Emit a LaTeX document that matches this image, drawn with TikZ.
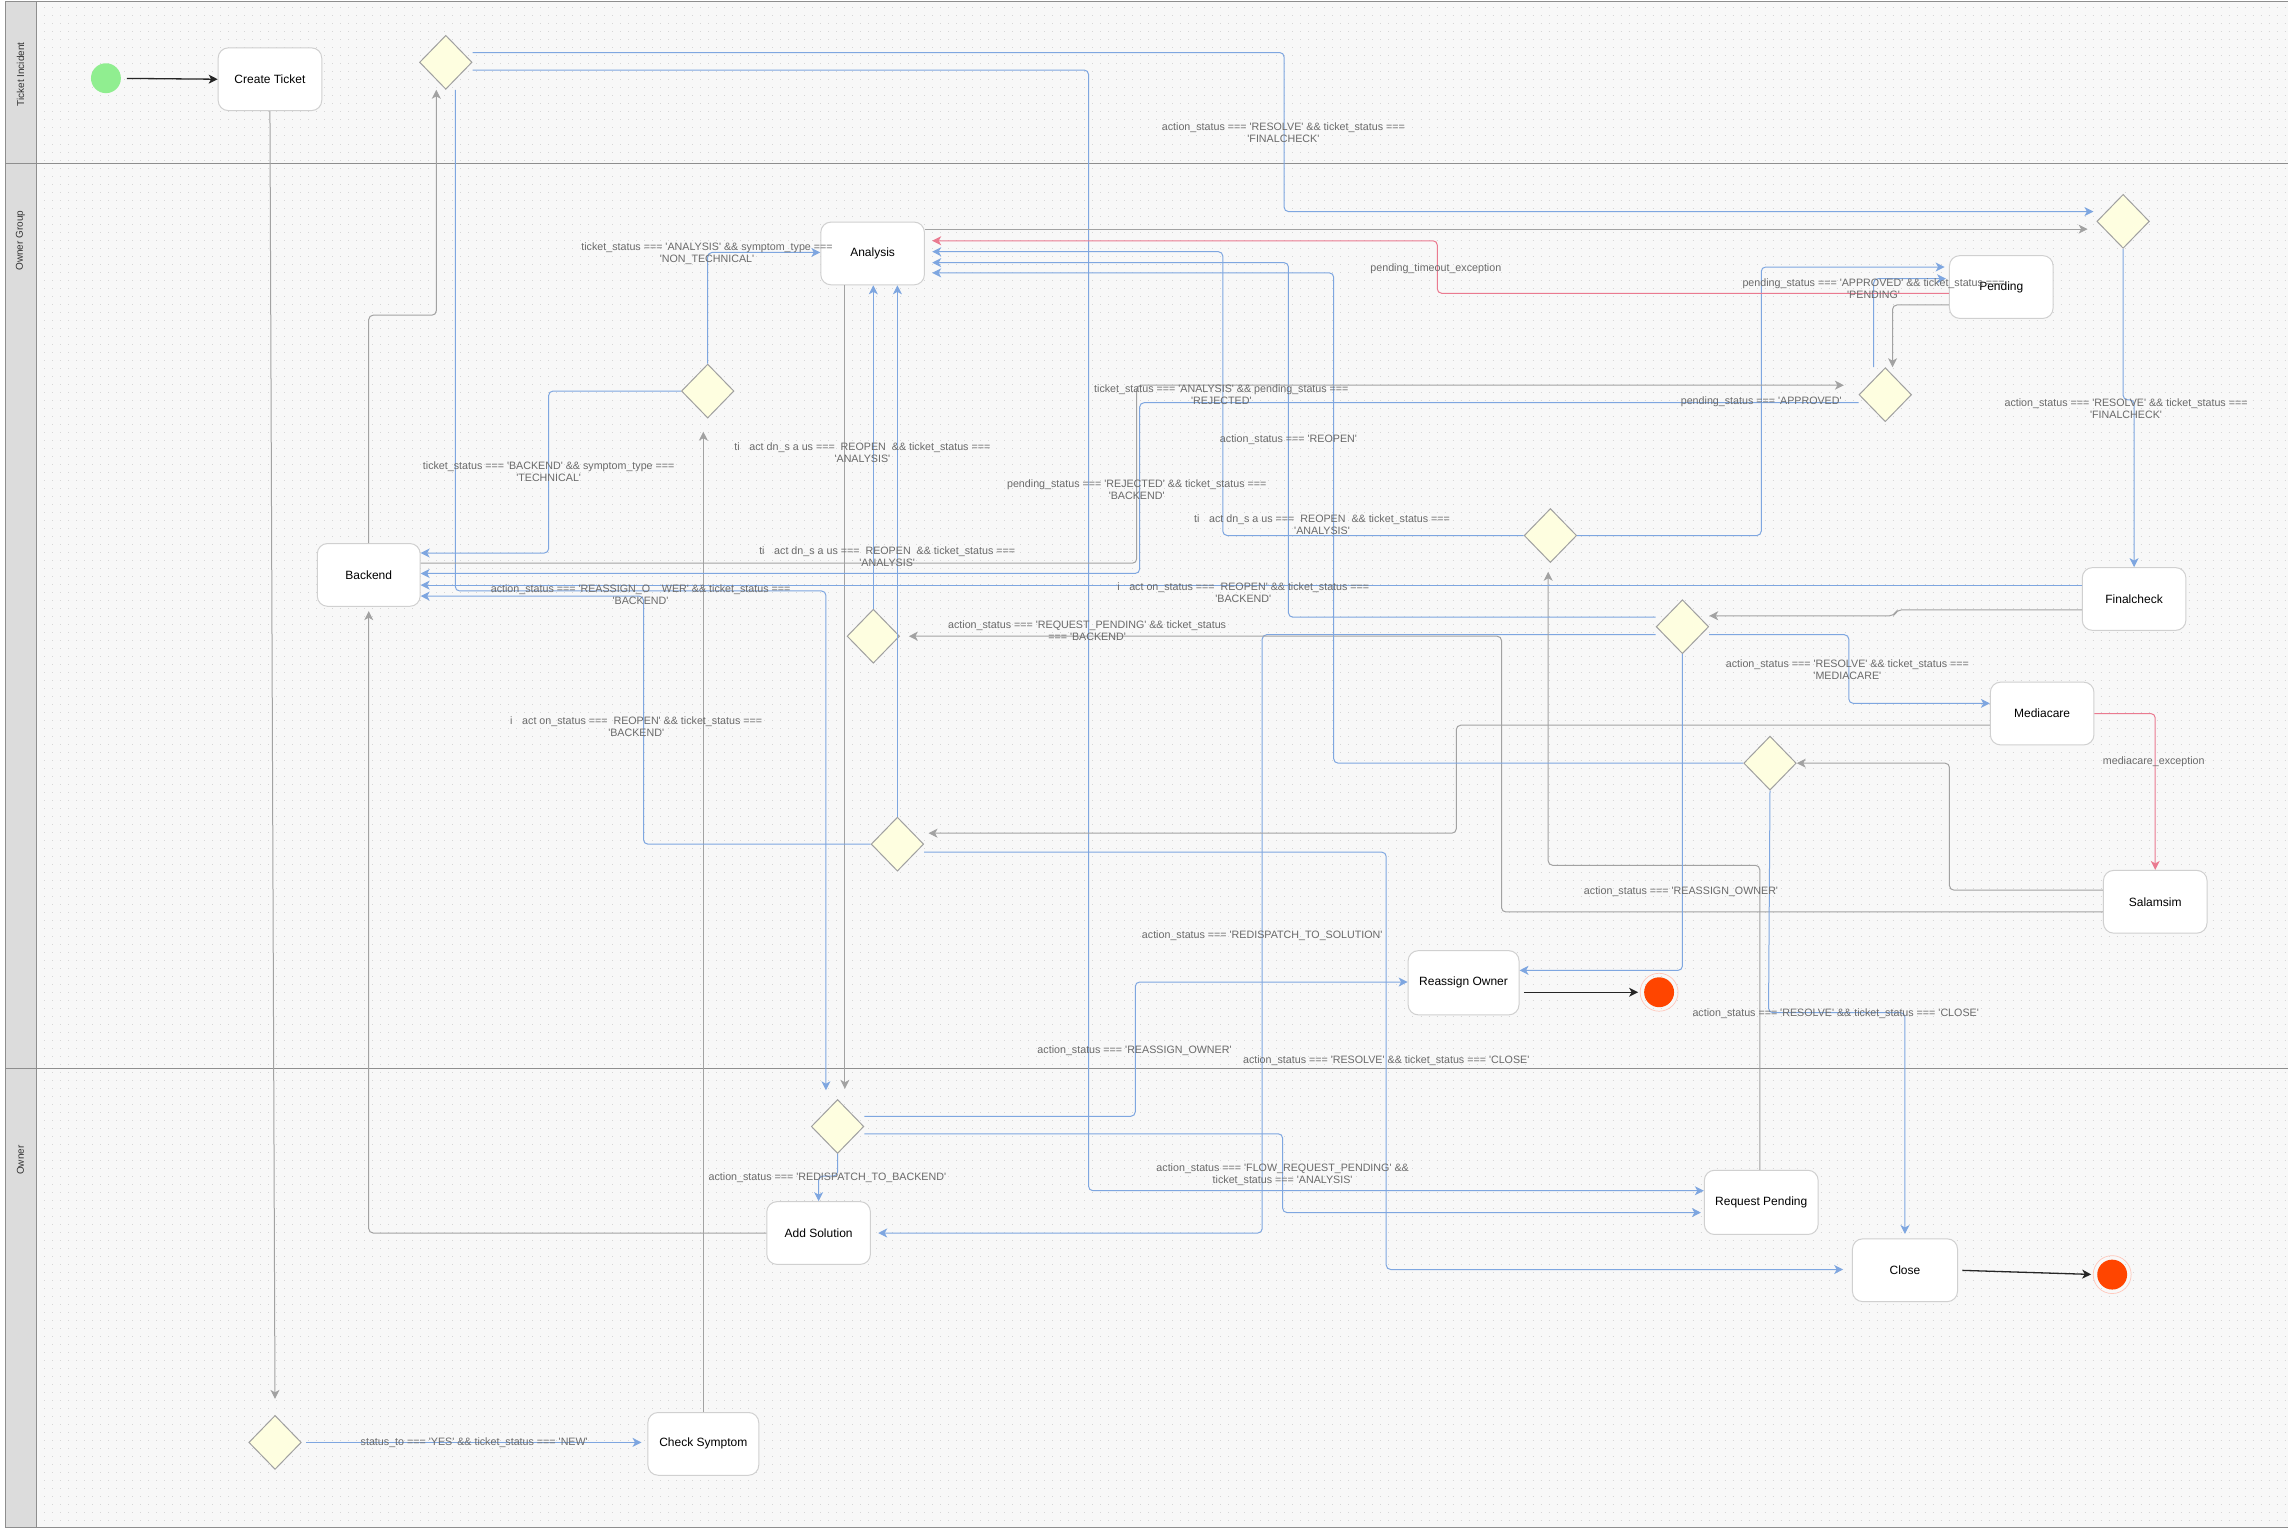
\documentclass[tikz,border=0pt]{standalone}
\usepackage{fontspec}
\setmainfont{Liberation Sans}[Ligatures=TeXOff]
\usetikzlibrary{arrows.meta,shapes.geometric,calc}

% one drawing unit
\newlength\upx \setlength\upx{1.45918pt}
\newlength\nupx \setlength\nupx{-1.45918pt}

\definecolor{laneline}{HTML}{8E8E8E}
\definecolor{lanehead}{HTML}{DCDCDC}
\definecolor{canvas}{HTML}{F8F8F8}
\definecolor{dotc}{HTML}{D6D6D6}
\definecolor{flowblue}{HTML}{7EA6E0}
\definecolor{flowgray}{HTML}{A2A2A2}
\definecolor{flowred}{HTML}{EA7A90}
\definecolor{boxline}{HTML}{D0D0D0}
\definecolor{diafill}{HTML}{FEFEE0}
\definecolor{diadraw}{HTML}{A0A0A0}
\definecolor{lbltext}{HTML}{6A6A6A}
\definecolor{startc}{HTML}{90EE90}
\definecolor{endc}{HTML}{FF4500}
\definecolor{endring}{HTML}{FFC8BC}

\tikzset{
  stbox/.style={rectangle, rounded corners=7\upx, draw=boxline, line width=1pt,
    fill=white, minimum width=71\upx, minimum height=43\upx, inner sep=0pt,
    font=\fontsize{12}{14}\selectfont, text=black},
  widebox/.style={stbox, minimum width=77\upx, minimum height=44\upx},
  gate/.style={diamond, draw=diadraw, line width=1pt, fill=diafill,
    minimum width=36\upx, minimum height=37\upx, inner sep=0pt},
  startdot/.style={circle, fill=startc, minimum size=20.5\upx, inner sep=0pt},
  enddot/.style={circle, fill=endc, minimum size=20.5\upx, inner sep=0pt},
  lbl/.style={font=\fontsize{10.7}{12}\selectfont, text=lbltext, align=center, inner sep=0pt},
  lanetitle/.style={rotate=90, font=\fontsize{10}{12}\selectfont, text=black!80},
  conn/.style={line width=1pt, rounded corners=3\upx,
    -{Stealth[length=9pt,width=9pt,inset=2.5pt]}},
  bflow/.style={conn, draw=flowblue},
  gflow/.style={conn, draw=flowgray},
  rflow/.style={conn, draw=flowred},
  kflow/.style={line width=1.3pt, draw=black!85,
    -{Stealth[length=9pt,width=9pt,inset=2.5pt]}},
  dotgrid/.style={draw=dotc, line width=1pt, dash pattern=on 1pt off 7pt},
}

\begin{document}
\begin{tikzpicture}[x=\upx, y=\nupx]
\useasboundingbox (0,0) rectangle (1568,1049);
\fill[white] (0,0) rectangle (1568,1049);

% swimlane canvas and dot grid
\fill[canvas] (25,1) rectangle (1568,1047);
\foreach \k in {1,...,190} {\draw[dotgrid] (25,\k*5.4826) -- (1568,\k*5.4826);}
\fill[lanehead] (4,1) rectangle (25,1047);
\draw[laneline, line width=1.2pt] (1568,1) -- (4,1) -- (4,1047) -- (1568,1047);
\draw[laneline, line width=1.2pt] (25,1) -- (25,1047);
\draw[laneline, line width=1.2pt] (4,112) -- (1568,112);
\draw[laneline, line width=1.2pt] (4,732) -- (1568,732);
\node[lanetitle] (laneA) at (14,51) {Ticket Incident};
\node[lanetitle] (laneB) at (14,165) {Owner Group};
\node[lanetitle] (laneC) at (14,795) {Owner};

% states and decisions
\node[startdot] (start) at (72.6,53.6) {};
\node[stbox] (CreateTicket) at (185,54.3) {Create Ticket};
\node[gate] (D1) at (305.5,42.7) {};
\node[stbox] (Analysis) at (598,173.7) {Analysis};
\node[gate] (D_FC) at (1455,151.7) {};
\node[stbox] (Pending) at (1371.5,196.7) {Pending};
\node[gate] (D_Pending) at (1292,270.5) {};
\node[gate] (D_Tech) at (485,268) {};
\node[stbox, minimum width=70.5\upx] (Backend) at (252.7,394) {Backend};
\node[gate] (D_mid) at (1062.5,367) {};
\node[stbox] (Finalcheck) at (1462.5,410.5) {Finalcheck};
\node[gate] (D_FCout) at (1153,429.5) {};
\node[gate] (D_ReqPend) at (598.5,436) {};
\node[stbox] (Mediacare) at (1399.5,489) {Mediacare};
\node[gate] (D_Sal) at (1213,523) {};
\node[gate] (D_Med) at (615,578.5) {};
\node[stbox] (Salamsim) at (1477,618) {Salamsim};
\node[widebox, minimum width=76\upx] (ReassignOwner) at (1003,673.5) {Reassign Owner};
\node[enddot] (End1) at (1137,680) {};
\draw[endring, line width=0.7pt] (End1.center) circle[radius=13\upx];
\node[gate] (D_Owner) at (574,772) {};
\node[stbox] (AddSolution) at (561,845) {Add Solution};
\node[widebox, minimum width=78\upx] (RequestPending) at (1207,824) {Request Pending};
\node[stbox, minimum width=72\upx] (Close) at (1305.5,870.5) {Close};
\node[enddot] (End2) at (1447.5,873.5) {};
\draw[endring, line width=0.7pt] (End2.center) circle[radius=13\upx];
\node[gate] (D_Start) at (188.5,988.5) {};
\node[widebox, minimum width=76\upx, minimum height=43\upx] (CheckSymptom) at (482,989.5) {Check Symptom};

% transitions
\draw[kflow, shorten <=4\upx] (start) -- (CreateTicket.west);
\draw[gflow, shorten >=11\upx] (CreateTicket.south) -- (D_Start.north);
\draw[bflow, shorten <=3\upx, shorten >=4\upx] (D_Start.east) -- (CheckSymptom.west |- D_Start.east);
\draw[gflow, shorten >=9\upx] (CheckSymptom.north) -- (CheckSymptom.north |- D_Tech.south);
\draw[bflow] (D_Tech.north) |- (Analysis.west |- 0,173);
\draw[bflow] (D_Tech.west) -- (376,268) |- (Backend.east |- 0,379);
\draw[gflow] (Backend.north) |- (299,216) -- (D1.south -| 299,0);
\draw[bflow, shorten >=2\upx] (D1.east |- 0,36) -- (880,36) |- (D_FC.west |- 0,145);
\draw[bflow] (D1.east |- 0,48) -- (746,48) |- (RequestPending.west |- 0,816);
\draw[bflow, shorten >=6\upx] (D1.south -| 312,0) -- (312,405) -- (566,405) -- (D_Owner.north -| 566,0);
\draw[gflow, shorten >=7\upx] (Analysis.south -| 579,0) -- (D_Owner.north -| 579,0);
\draw[bflow] (D_Owner.south) -- (574,806) -| (AddSolution.north);
\draw[bflow] (D_Owner.east |- 0,765) -- (778,765) |- (ReassignOwner.west |- 0,673);
\draw[bflow, shorten >=2\upx] (D_Owner.east |- 0,777) -- (879,777) |- (RequestPending.west |- 0,831);
\draw[bflow, shorten >=5\upx] (D_FCout.west |- 0,435) -- (865,435) |- (AddSolution.east |- 0,845);
\draw[gflow, shorten >=6\upx] (Salamsim.west |- 0,625) -- (1029,625) |- (D_ReqPend.east |- 0,436);
\draw[gflow, shorten >=6\upx] (RequestPending.north -| 1206,0) -- (1206,593) -- (1061,593) -- (D_mid.south -| 1061,0);
\draw[gflow, shorten >=3\upx] (Mediacare.west |- 0,497) -- (998,497) |- (D_Med.east |- 0,571);
\draw[bflow, shorten >=6\upx] (D_Med.east |- 0,584) -- (950,584) |- (Close.west |- 0,870);
\draw[bflow] (D_Med.west) -- (441,578.5) |- (Backend.east |- 0,408.5);
\draw[bflow] (D_Med.north) -- (Analysis.south -| D_Med.north);
\draw[bflow] (D_ReqPend.north) -- (Analysis.south -| D_ReqPend.north);
\draw[bflow, shorten >=5\upx] (D_mid.west) -- (838,367) |- (Analysis.east |- 0,172.5);
\draw[bflow, shorten >=5\upx] (D_FCout.west |- 0,423) -- (883,423) |- (Analysis.east |- 0,180);
\draw[bflow, shorten >=5\upx] (D_Sal.west) -- (914,523) |- (Analysis.east |- 0,187);
\draw[bflow, shorten >=3\upx] (D_mid.east) -- (1207,367) |- (Pending.west |- 0,183);
\draw[bflow, shorten >=2\upx] (D_Pending.north -| 1284,0) |- (Pending.west |- 0,191);
\draw[gflow] (Pending.west |- 0,209) -- (1297,209) -- (D_Pending.north -| 1297,0);
\draw[rflow, shorten >=5\upx] (Pending.west |- 0,201) -- (985,201) |- (Analysis.east |- 0,165);
\draw[bflow] (D_Pending.west |- 0,276) -- (781,276) |- (Backend.east |- 0,393);
\draw[gflow, shorten >=10\upx] (Backend.east |- 0,386) -- (779,386) |- (D_Pending.west |- 0,264);
\draw[gflow, shorten >=6\upx] (Analysis.east |- 0,157) -- (D_FC.west |- 0,157);
\draw[bflow] (D_FC.south) -- (1455,274) -| (Finalcheck.north);
\draw[bflow] (Finalcheck.west |- 0,401) -- (Backend.east |- 0,401);
\draw[gflow] (Finalcheck.west |- 0,418) -- (1300,418) -- (1298,422) -- (D_FCout.east |- 0,422);
\draw[bflow] (D_FCout.east |- 0,435) -- (1267,435) |- (Mediacare.west |- 0,482);
\draw[rflow] (Mediacare.east) -| (Salamsim.north);
\draw[gflow] (Salamsim.west |- 0,610) -- (1336,610) |- (D_Sal.east);
\draw[bflow] (D_FCout.south) |- (ReassignOwner.east |- 0,665);
\draw[bflow, shorten >=3\upx] (D_Sal.south) -- (1212,694) -| (Close.north);
\draw[kflow, shorten <=3\upx, shorten >=4\upx] (ReassignOwner.east |- 0,680) -- (End1.west);
\draw[kflow, shorten <=3\upx, shorten >=4\upx] (Close.east) -- (End2.west);
\draw[gflow, shorten >=3\upx] (AddSolution.west) -| (Backend.south);

% guard labels
\node[lbl] (l1) at (879.5,91) {action\_status === 'RESOLVE' \&\& ticket\_status ===\\'FINALCHECK'};
\node[lbl] (l2) at (484.5,174) {ticket\_status === 'ANALYSIS' \&\& symptom\_type ===\\'NON\_TECHNICAL'};
\node[lbl] (l3) at (984,184) {pending\_timeout\_exception};
\node[lbl] (l4) at (1284,198) {pending\_status === 'APPROVED' \&\& ticket\_status ===\\'PENDING'};
\node[lbl] (l5) at (837,270.5) {ticket\_status === 'ANALYSIS' \&\& pending\_status ===\\'REJECTED'};
\node[lbl] (l6) at (1207,275) {pending\_status === 'APPROVED'};
\node[lbl] (l7) at (1457,280) {action\_status === 'RESOLVE' \&\& ticket\_status ===\\'FINALCHECK'};
\node[lbl] (l8) at (883,301.5) {action\_status === 'REOPEN'};
\node[lbl] (l9) at (591,310.5) {ti\hspace{0.9em}act dn\_s a us === \ REOPEN \ \&\& ticket\_status ===\\'ANALYSIS'};
\node[lbl] (l10) at (376,323.5) {ticket\_status === 'BACKEND' \&\& symptom\_type ===\\'TECHNICAL'};
\node[lbl] (l11) at (779,335.5) {pending\_status === 'REJECTED' \&\& ticket\_status ===\\'BACKEND'};
\node[lbl] (l12) at (906,359.5) {ti\hspace{0.9em}act dn\_s a us === \ REOPEN \ \&\& ticket\_status ===\\'ANALYSIS'};
\node[lbl] (l13) at (608,381.5) {ti\hspace{0.9em}act dn\_s a us === \ REOPEN \ \&\& ticket\_status ===\\'ANALYSIS'};
\node[lbl] (l14) at (439,407.5) {action\_status === 'REASSIGN\_O\hspace{1.1em}WER' \&\& ticket\_status ===\\'BACKEND'};
\node[lbl] (l15) at (852,406) {i\hspace{0.9em}act on\_status === \ REOPEN' \&\& ticket\_status ===\\'BACKEND'};
\node[lbl] (l16) at (745,432.5) {action\_status === 'REQUEST\_PENDING' \&\& ticket\_status\\=== 'BACKEND'};
\node[lbl] (l17) at (1266,459) {action\_status === 'RESOLVE' \&\& ticket\_status ===\\'MEDIACARE'};
\node[lbl] (l18) at (436,498) {i\hspace{0.9em}act on\_status === \ REOPEN' \&\& ticket\_status ===\\'BACKEND'};
\node[lbl] (l19) at (1476,522) {mediacare\_exception};
\node[lbl] (l20) at (1152,611) {action\_status === 'REASSIGN\_OWNER'};
\node[lbl] (l21) at (865,641) {action\_status === 'REDISPATCH\_TO\_SOLUTION'};
\node[lbl] (l22) at (1258,695) {action\_status === 'RESOLVE' \&\& ticket\_status === 'CLOSE'};
\node[lbl] (l23) at (777.5,720) {action\_status === 'REASSIGN\_OWNER'};
\node[lbl] (l24) at (950,727) {action\_status === 'RESOLVE' \&\& ticket\_status === 'CLOSE'};
\node[lbl] (l25) at (879,805) {action\_status === 'FLOW\_REQUEST\_PENDING' \&\&\\ticket\_status === 'ANALYSIS'};
\node[lbl] (l26) at (567,807) {action\_status === 'REDISPATCH\_TO\_BACKEND'};
\node[lbl] (l27) at (325,989) {status\_to === 'YES' \&\& ticket\_status === 'NEW'};
\end{tikzpicture}
\end{document}
